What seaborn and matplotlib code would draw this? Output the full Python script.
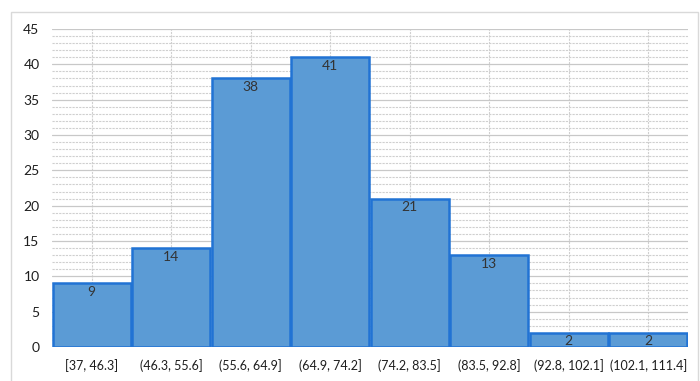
import matplotlib
matplotlib.use("Agg")
import matplotlib.pyplot as plt
import seaborn as sns
from matplotlib.patches import Rectangle
from matplotlib.ticker import MultipleLocator

# Histogram bins and counts
bins = ["[37, 46.3]", "(46.3, 55.6]", "(55.6, 64.9]", "(64.9, 74.2]",
        "(74.2, 83.5]", "(83.5, 92.8]", "(92.8, 102.1]", "(102.1, 111.4]"]
counts = [9, 14, 38, 41, 21, 13, 2, 2]

sns.set_theme(style="white")
plt.rcParams["font.family"] = ["Lato", "DejaVu Sans"]

fig = plt.figure(figsize=(7.0, 3.81), dpi=100)
fig.patch.set_facecolor("white")

# outer chart frame
fig.add_artist(Rectangle((11 / 700, -0.05), 687 / 700, 1.05 - 12 / 381,
                         transform=fig.transFigure, fill=False,
                         edgecolor="#d9d9d9", linewidth=1.0))

ax = fig.add_axes([52 / 700, 1 - 347 / 381, 636 / 700, 318 / 381])

sns.barplot(x=bins, y=counts, ax=ax, color="#5b9bd5", width=0.975,
            edgecolor="#2173d4", linewidth=1.8, saturation=1)

ax.set_ylim(0, 45)
ax.set_xlim(-0.5, len(bins) - 0.5)
ax.yaxis.set_major_locator(MultipleLocator(5))
ax.yaxis.set_minor_locator(MultipleLocator(1))
ax.set_axisbelow(True)
ax.grid(axis="y", which="major", color="#c8c8c8", linewidth=0.9, linestyle="-")
ax.grid(axis="y", which="minor", color="#cfcfcf", linewidth=0.8, linestyle=(0, (2, 1)))
ax.grid(axis="x", which="major", color="#d0d0d0", linewidth=0.8, linestyle=(0, (2, 1)))
for s in ax.spines.values():
    s.set_visible(False)

ax.set_xlabel("")
ax.set_ylabel("")
ax.tick_params(axis="both", which="both", length=0, colors="#1e1e1e")
ax.tick_params(axis="y", labelsize=10, pad=9)
ax.tick_params(axis="x", labelsize=9, pad=9)

for i, v in enumerate(counts):
    ax.text(i, v - 0.35, str(v), ha="center", va="top", fontsize=10,
            color="#333333")

fig.savefig("out.png", dpi=100, facecolor="white")
